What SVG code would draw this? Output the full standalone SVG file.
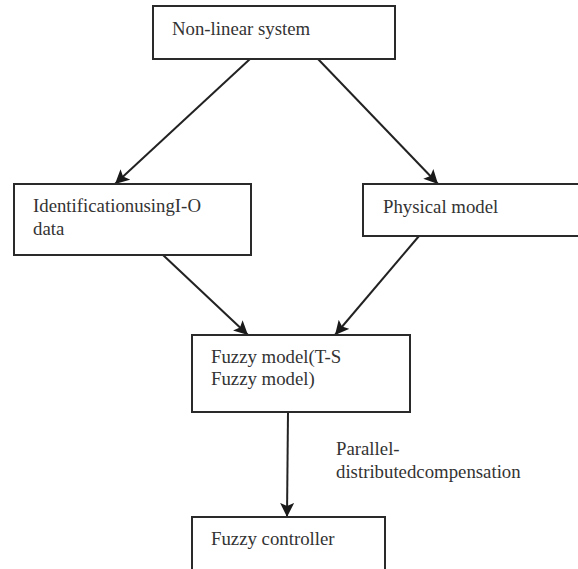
<svg xmlns="http://www.w3.org/2000/svg" width="578" height="569" viewBox="0 0 578 569">
<style>
.box{fill:#fff;stroke:#2a2a2a;stroke-width:2}
text{font-family:'Liberation Serif','Times New Roman',Times,serif;font-size:18.8px;fill:#333}
.c{stroke:#222;stroke-width:2;fill:none;marker-end:url(#ah)}
</style>
<defs>
<marker id="ah" markerUnits="userSpaceOnUse" markerWidth="14" markerHeight="14" viewBox="0 0 14 14" refX="14" refY="7" orient="auto">
<path d="M0,0 L14,7 L0,14 L3,7 Z" fill="#1a1a1a"/>
</marker>
</defs>
<rect width="578" height="569" fill="#fff"/>
<g id="connectors">
<line class="c" x1="250" y1="59" x2="115" y2="184"/>
<line class="c" x1="318" y1="59" x2="438" y2="184"/>
<line class="c" x1="163" y1="255" x2="248" y2="335"/>
<line class="c" x1="419" y1="236" x2="335" y2="335"/>
<line class="c" x1="288" y1="412" x2="287" y2="517"/>
</g>
<g id="n1">
<rect class="box" x="153" y="6" width="242" height="53"/>
<text x="172" y="35" font-family="Liberation Serif, serif">Non-linear system</text>
</g>
<g id="n2">
<rect class="box" x="14" y="184" width="237" height="71"/>
<text x="33" y="212" font-family="Liberation Serif, serif">IdentificationusingI-O</text>
<text x="33" y="235" font-family="Liberation Serif, serif">data</text>
</g>
<g id="n3">
<rect class="box" x="363" y="184" width="220" height="52"/>
<text x="383" y="213" font-family="Liberation Serif, serif">Physical model</text>
</g>
<g id="n4">
<rect class="box" x="192" y="335" width="218" height="77"/>
<text x="211" y="363" font-family="Liberation Serif, serif">Fuzzy model(T-S</text>
<text x="211" y="385" font-family="Liberation Serif, serif">Fuzzy model)</text>
</g>
<g id="n5">
<rect class="box" x="192" y="517" width="193" height="60"/>
<text x="211" y="545" font-family="Liberation Serif, serif">Fuzzy controller</text>
</g>
<g id="label">
<text x="336" y="455" font-family="Liberation Serif, serif">Parallel-</text>
<text x="336" y="478" font-family="Liberation Serif, serif">distributedcompensation</text>
</g>
</svg>
